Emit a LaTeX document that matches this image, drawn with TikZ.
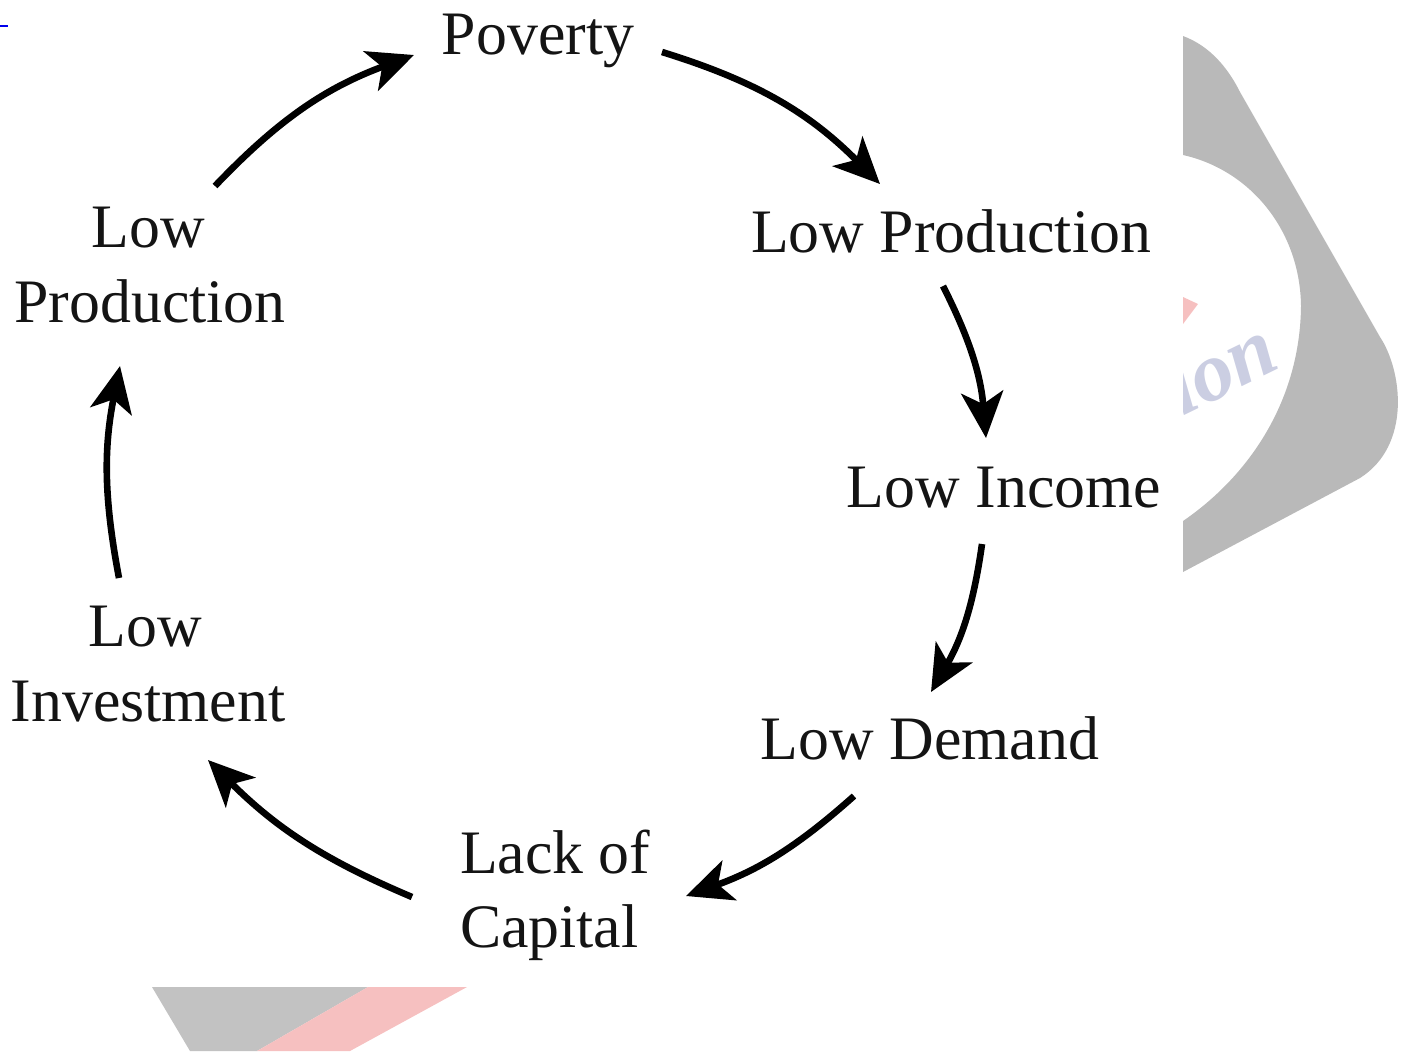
\documentclass[tikz,border=0pt]{standalone}
\usepackage{fontspec}
\setmainfont{Liberation Serif}
\newfontfamily\wmfont{Liberation Serif}
\usetikzlibrary{arrows.meta}
\definecolor{wmgray}{HTML}{B9B9B9}
\definecolor{wmgraylow}{HTML}{C2C2C2}
\definecolor{wmpink}{HTML}{F6C0C0}
\definecolor{wmblue}{HTML}{CBCEE2}
\tikzset{
  label text/.style={inner sep=0pt,outer sep=0pt,font=\fontsize{30.9}{37.5}\selectfont,anchor=base,text=black!92},
  flow/.style={line width=3.3pt,-{Stealth[length=23pt,width=21pt,inset=6pt]},black}
}
\begin{document}
\begin{tikzpicture}[x=0.5pt,y=-0.5pt]
\useasboundingbox (0,0) rectangle (1407,1051);
% background watermark fragments
\fill[wmgray] (1183,36) .. controls (1210,46) and (1228,68) .. (1240,92)
  -- (1380,337) .. controls (1402,370) and (1412,445) .. (1360,478)
  -- (1183,572) -- (1183,521)
  .. controls (1250,475) and (1300,400) .. (1301,306)
  .. controls (1300,230) and (1250,170) .. (1183,155) -- cycle;
\fill[wmpink] (1183,297) -- (1198,304) -- (1183,324) -- cycle;
\begin{scope}
  \clip (1183,250) rectangle (1300,450);
  \node[rotate=26,text=wmblue,inner sep=0pt,font=\wmfont\fontsize{42}{42}\selectfont\bfseries\itshape] (wm) at (1220,366) {ion};
\end{scope}
\fill[wmgraylow] (152,987) -- (368,987) -- (257,1051) -- (190,1051) -- cycle;
\fill[wmpink] (368,987) -- (467,987) -- (350,1051) -- (257,1051) -- cycle;
\fill[blue!93!black] (0,25) rectangle (8,27);
% labels
\node[label text] (pov) at (538,54) {Poverty};
\node[label text] (lpr) at (951,252) {Low Production};
\node[label text] (lin) at (1004,507) {Low Income};
\node[label text] (lde) at (930,759) {Low Demand};
\node[label text] (lo1) at (148,247) {Low};
\node[label text] (lo2) at (150,322) {Production};
\node[label text] (li1) at (145,646) {Low};
\node[label text] (li2) at (148,721) {Investment};
\node[label text,anchor=base west] (la1) at (460,873) {Lack of};
\node[label text,anchor=base west] (la2) at (460,947) {Capital};
% connectors
\draw[flow] ([shift={(124,-2)}]pov.base) to[bend left=14] ([shift={(-71,-68)}]lpr.base);
\draw[flow] ([shift={(-8,34)}]lpr.base) to[bend left=11] ([shift={(-18,-69)}]lin.base);
\draw[flow] ([shift={(-22,37)}]lin.base) to[bend left=11] ([shift={(1,-67)}]lde.base);
\draw[flow] ([shift={(-76,37)}]lde.base) to[bend left=11] ([shift={(226,-51)}]la2.base west);
\draw[flow] ([shift={(-48,24)}]la1.base west) to[bend left=11] ([shift={(60,39)}]li2.base);
\draw[flow] ([shift={(-26,-68)}]li1.base) to[bend left=11] ([shift={(-30,44)}]lo2.base);
\draw[flow] ([shift={(67,-61)}]lo1.base) to[bend left=13] ([shift={(-124,1)}]pov.base);
\end{tikzpicture}
\end{document}
